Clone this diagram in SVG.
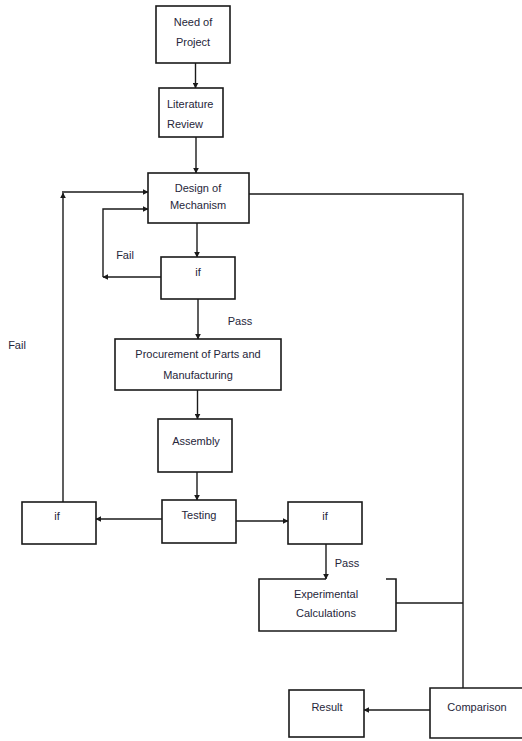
<svg xmlns="http://www.w3.org/2000/svg" width="522" height="741" viewBox="0 0 522 741">
<defs>
<marker id="ah" viewBox="0 0 10 10" refX="9" refY="5" markerWidth="6" markerHeight="6" orient="auto" markerUnits="userSpaceOnUse">
<path d="M0,0 L10,5 L0,10 z" fill="#1a1a1a"/>
</marker>
<style>
.box{fill:#fff;stroke:#1a1a1a;stroke-width:1.6}
.ln{fill:none;stroke:#1a1a1a;stroke-width:1.4}
.t{font-family:"Liberation Sans",Arial,sans-serif;font-size:11px;fill:#26263a;text-anchor:middle;dominant-baseline:middle}
</style>
</defs>
<rect width="522" height="741" fill="#fff"/>
<g id="connectors">
<path class="ln" d="M195.5,63 V88" marker-end="url(#ah)"/>
<path class="ln" d="M196,137 V173" marker-end="url(#ah)"/>
<path class="ln" d="M197,223 V257" marker-end="url(#ah)"/>
<path class="ln" d="M161,277 H103" marker-end="url(#ah)"/>
<path class="ln" d="M103,277 V209 H148" marker-end="url(#ah)"/>
<path class="ln" d="M198,299 V339" marker-end="url(#ah)"/>
<path class="ln" d="M197.5,390 V419" marker-end="url(#ah)"/>
<path class="ln" d="M197,472 V500" marker-end="url(#ah)"/>
<path class="ln" d="M162,519 H96" marker-end="url(#ah)"/>
<path class="ln" d="M63,502 V193" marker-end="url(#ah)"/>
<path class="ln" d="M62,192 H148" marker-end="url(#ah)"/>
<path class="ln" d="M236,521 H288" marker-end="url(#ah)"/>
<path class="ln" d="M326,544 V579" marker-end="url(#ah)"/>
<path class="ln" d="M249,194 H463 V688"/>
<path class="ln" d="M396,603 H463"/>
<path class="ln" d="M430,710 H364" marker-end="url(#ah)"/>
<text class="t" x="125" y="256">Fail</text>
<text class="t" x="240" y="322">Pass</text>
<text class="t" x="17" y="346">Fail</text>
<text class="t" x="347" y="564">Pass</text>
</g>
<g id="need">
<rect class="box" x="156" y="6" width="74" height="57"/>
<text class="t" x="193" y="23">Need of</text>
<text class="t" x="193" y="43">Project</text>
</g>
<g id="literature">
<rect class="box" x="159" y="88" width="64" height="49"/>
<text class="t" x="167" y="105" style="text-anchor:start">Literature</text>
<text class="t" x="167" y="125" style="text-anchor:start">Review</text>
</g>
<g id="design">
<rect class="box" x="148" y="173" width="101" height="50"/>
<text class="t" x="198" y="189">Design of</text>
<text class="t" x="198" y="206">Mechanism</text>
</g>
<g id="if1">
<rect class="box" x="161" y="257" width="74" height="42"/>
<text class="t" x="198" y="273">if</text>
</g>
<g id="procurement">
<rect class="box" x="115" y="339" width="166" height="51"/>
<text class="t" x="198" y="355">Procurement of Parts and</text>
<text class="t" x="198" y="376">Manufacturing</text>
</g>
<g id="assembly">
<rect class="box" x="158" y="419" width="74" height="53"/>
<text class="t" x="196" y="442">Assembly</text>
</g>
<g id="testing">
<rect class="box" x="162" y="500" width="74" height="43"/>
<text class="t" x="199" y="516">Testing</text>
</g>
<g id="if-left">
<rect class="box" x="22" y="502" width="74" height="42"/>
<text class="t" x="57" y="517">if</text>
</g>
<g id="if-right">
<rect class="box" x="288" y="502" width="74" height="42"/>
<text class="t" x="325" y="517">if</text>
</g>
<g id="experimental">
<path class="box" d="M326,579 H259 V631 H396 V579 H386" fill="#fff"/>
<text class="t" x="326" y="595">Experimental</text>
<text class="t" x="326" y="614">Calculations</text>
</g>
<g id="result">
<rect class="box" x="289" y="690" width="75" height="47"/>
<text class="t" x="327" y="708">Result</text>
</g>
<g id="comparison">
<path class="box" d="M530,688 H430 V738 H530"/>
<text class="t" x="477" y="708">Comparison</text>
</g>
</svg>
